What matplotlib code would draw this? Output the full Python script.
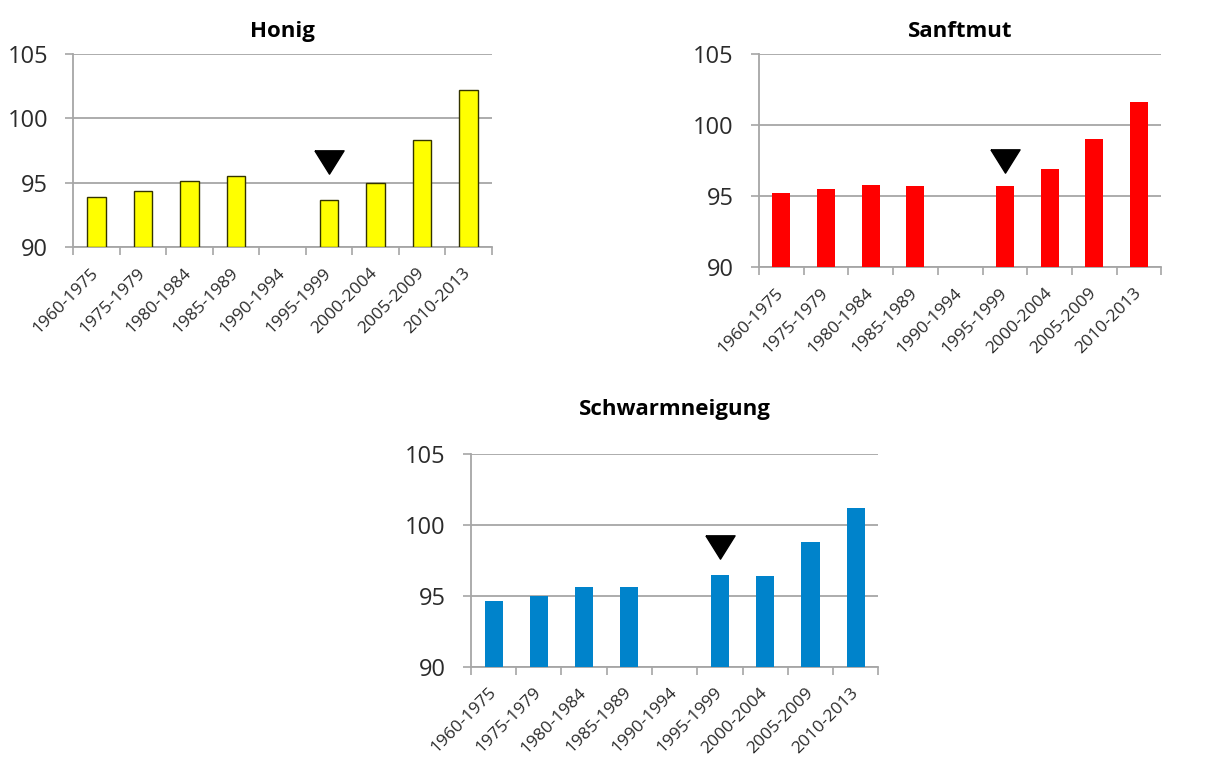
import matplotlib.pyplot as plt
import numpy as np

plt.rcParams["font.family"] = ["Open Sans", "DejaVu Sans"]

periods = ["1960-1975", "1975-1979", "1980-1984", "1985-1989", "1990-1994",
           "1995-1999", "2000-2004", "2005-2009", "2010-2013"]

# no data for 1990-1994
honig = [93.9, 94.4, 95.15, 95.5, np.nan, 93.7, 95.0, 98.3, 102.2]
sanftmut = [95.2, 95.5, 95.8, 95.7, np.nan, 95.7, 96.9, 99.0, 101.6]
schwarmneigung = [94.6, 95.0, 95.6, 95.6, np.nan, 96.45, 96.4, 98.8, 101.2]

titles = ["Honig", "Sanftmut", "Schwarmneigung"]
marked_period = "1995-1999"

GRID = "#a6a6a6"
TEXT = "#2b2b2b"

# panel: values, colour, edge, axes rect, marker centre (data units), title pad
panels = [
    (honig, "#ffff00", "#333300", [0.060, 0.675, 0.343, 0.254], 96.65, 12),
    (sanftmut, "#ff0000", "none", [0.622, 0.649, 0.330, 0.280], 97.45, 12),
    (schwarmneigung, "#0083cb", "none", [0.386, 0.124, 0.334, 0.280], 98.4, 28),
]

down_triangle = [(-15, 12), (15, 12), (0, -12), (-15, 12)]

fig = plt.figure(figsize=(12.2, 7.61), dpi=100)

for title, (values, color, edge, rect, mark_y, tpad) in zip(titles, panels):
    ax = fig.add_axes(rect)
    vals = np.array(values)
    x = np.arange(len(periods))
    has = ~np.isnan(vals)
    ax.bar(x[has], vals[has] - 90, bottom=90, width=0.4,
           color=color, edgecolor=edge, linewidth=1.0 if edge != "none" else 0, zorder=3)
    ax.plot(periods.index(marked_period), mark_y, marker=down_triangle,
            ms=21, color="black", ls="none", zorder=4)

    ax.set_ylim(90, 105)
    ax.set_yticks([90, 95, 100, 105])
    ax.set_xlim(-0.5, len(periods) - 0.5)
    ax.grid(axis="y", color=GRID, lw=1.3, zorder=0)

    ax.set_xticks(np.arange(len(periods) + 1) - 0.5)
    ax.set_xticklabels([])
    ax.set_xticks(x, minor=True)
    ax.set_xticklabels(periods, minor=True, rotation=45, ha="right",
                       va="center", rotation_mode="anchor", fontsize=12.5, color=TEXT)
    ax.tick_params(axis="x", which="minor", length=0, pad=17)
    ax.tick_params(axis="x", which="major", length=6, width=1.2, color=GRID)
    ax.tick_params(axis="y", length=6, width=1.2, color=GRID, pad=12,
                   labelsize=17, labelcolor=TEXT)

    for side in ("top", "right"):
        ax.spines[side].set_visible(False)
    for side in ("left", "bottom"):
        ax.spines[side].set_color(GRID)
        ax.spines[side].set_linewidth(1.3)

    ax.set_title(title, fontsize=16, fontweight="bold", pad=tpad)

fig.savefig("out.png", dpi=100)
